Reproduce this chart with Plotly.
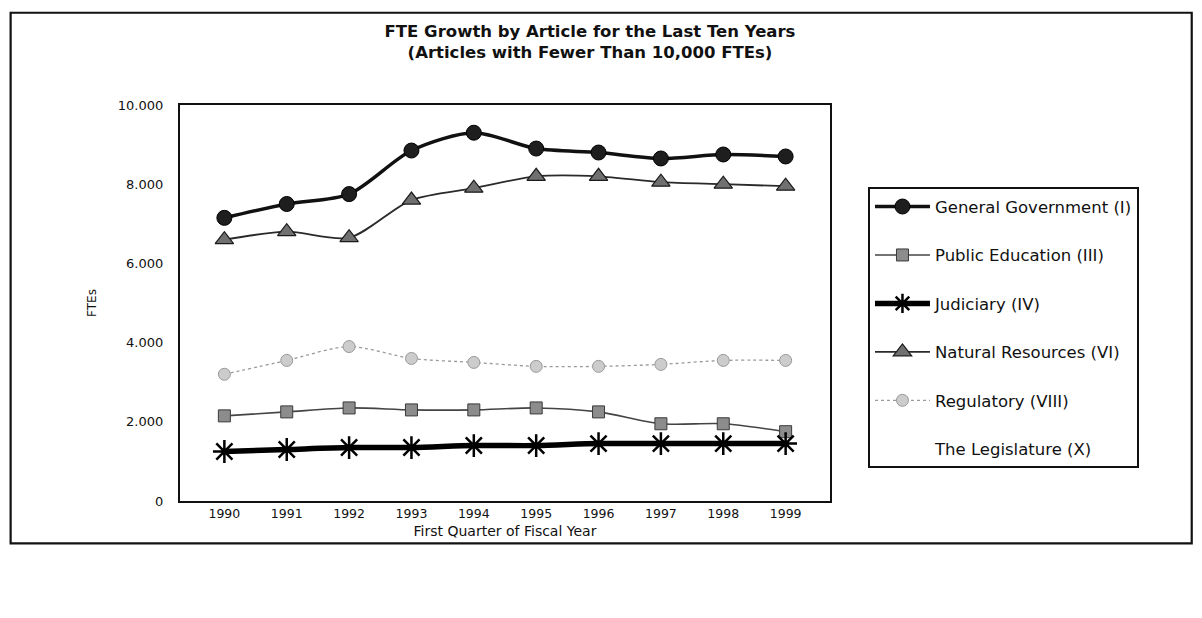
import plotly.graph_objects as go

years = ["1990", "1991", "1992", "1993", "1994", "1995", "1996", "1997", "1998", "1999"]
general_government = [7150, 7500, 7750, 8850, 9300, 8900, 8800, 8650, 8750, 8700]
public_education = [2150, 2250, 2350, 2300, 2300, 2350, 2250, 1950, 1950, 1750]
judiciary = [1250, 1300, 1350, 1350, 1400, 1400, 1450, 1450, 1450, 1450]
natural_resources = [6600, 6800, 6650, 7600, 7900, 8200, 8200, 8050, 8000, 7950]
regulatory = [3200, 3550, 3900, 3600, 3500, 3400, 3400, 3450, 3550, 3550]
legislature = [None] * 10  # series is not visible in the reference

y_tick_vals = [0, 2000, 4000, 6000, 8000, 10000]
y_tick_text = ["0", "2.000", "4.000", "6.000", "8.000", "10.000"]

FONT = "DejaVu Sans"

# page has an 8px body margin; figure is sized so the page still is 1202x618
W, H = 1186, 602
PL, PR, PT, PB = 179.5, 830, 104.5, 501.5   # plot area in page pixels
OFF = 8


def px_x(p):
    return (p - PL) / (PR - PL)


def px_y(p):
    return (PB - p) / (PB - PT)


fig = go.Figure()
fig.add_trace(go.Scatter(
    x=years, y=general_government, name="General Government (I)", legendgroup="a",
    mode="lines+markers", line=dict(color="#111111", width=3.5, shape="spline", smoothing=0.8),
    marker=dict(symbol="circle", size=15, color="#1e1e1e", line=dict(color="#000000", width=1))))
fig.add_trace(go.Scatter(
    x=years, y=public_education, name="Public Education (III)", legendgroup="b",
    mode="lines+markers", line=dict(color="#444444", width=1.6, shape="spline", smoothing=0.8),
    marker=dict(symbol="square", size=12, color="#8c8c8c", line=dict(color="#3a3a3a", width=1))))
fig.add_trace(go.Scatter(
    x=years, y=judiciary, name="Judiciary (IV)", legendgroup="c",
    mode="lines+markers", line=dict(color="#000000", width=5.5, shape="spline", smoothing=0.8),
    marker=dict(symbol="asterisk-open", size=19, color="#000000", line=dict(color="#000000", width=2.5))))
fig.add_trace(go.Scatter(
    x=years, y=natural_resources, name="Natural Resources (VI)", legendgroup="d",
    mode="lines+markers", line=dict(color="#2a2a2a", width=1.8, shape="spline", smoothing=0.8),
    marker=dict(symbol="triangle-up", size=16, color="#707070", line=dict(color="#1a1a1a", width=1.2))))
fig.add_trace(go.Scatter(
    x=years, y=regulatory, name="Regulatory (VIII)", legendgroup="e",
    mode="lines+markers", line=dict(color="#9a9a9a", width=1.3, dash="dot", shape="spline", smoothing=0.8),
    marker=dict(symbol="circle", size=12, color="#cccccc", line=dict(color="#999999", width=1))))
fig.add_trace(go.Scatter(
    x=years, y=legislature, name="The Legislature (X)", legendgroup="f",
    mode="lines", line=dict(color="rgba(0,0,0,0)", width=1)))

fig.update_layout(
    width=W, height=H,
    paper_bgcolor="white", plot_bgcolor="white",
    margin=dict(l=PL - OFF, r=W - (PR - OFF), t=PT - OFF, b=H - (PB - OFF)),
    font=dict(family=FONT, size=12, color="#111111"),
    title=dict(
        text="<b>FTE Growth by Article for the Last Ten Years<br>(Articles with Fewer Than 10,000 FTEs)</b>",
        x=(590 - OFF) / W, xref="container", xanchor="center",
        y=1 - 29 / H, yref="container", yanchor="top",
        font=dict(family=FONT, size=16.5, color="#111111")),
    xaxis=dict(
        type="category", showgrid=False, zeroline=False,
        showline=True, linecolor="#111111", linewidth=2.2, mirror=True,
        ticks="", tickfont=dict(size=12.5),
        title=dict(text="First Quarter of Fiscal Year", font=dict(size=14), standoff=6)),
    yaxis=dict(
        range=[0, 10000], tickvals=y_tick_vals, ticktext=y_tick_text,
        showgrid=False, zeroline=False,
        showline=True, linecolor="#111111", linewidth=2.2, mirror=True,
        ticks="", tickfont=dict(size=13), ticklabelstandoff=12,
        title=dict(text="FTEs", font=dict(size=12), standoff=19)),
    legend=dict(
        x=px_x(868), xanchor="left", y=px_y(187), yanchor="top",
        bgcolor="white", bordercolor="#111111", borderwidth=2,
        font=dict(size=16.5, family=FONT), traceorder="grouped",
        tracegroupgap=24, itemwidth=55),
    shapes=[dict(type="rect", xref="paper", yref="paper",
                 x0=px_x(10), x1=px_x(1192), y0=px_y(544), y1=px_y(12),
                 line=dict(color="#111111", width=2.2), fillcolor="rgba(0,0,0,0)", layer="below")],
)

fig.write_html("out.html")
